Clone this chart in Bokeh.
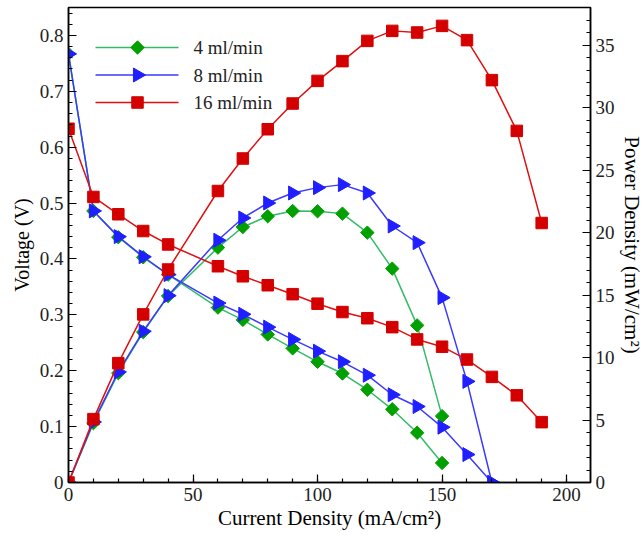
import numpy as np
from bokeh.plotting import figure
from bokeh.models import (Range1d, LinearAxis, SingleIntervalTicker, CustomJSTickFormatter)
from bokeh.core.properties import value
from bokeh.embed import file_html
from bokeh.resources import INLINE

# ---- data ----
x_4 = [0, 10, 20, 30, 40, 60, 70, 80, 90, 100, 110, 120, 130, 140, 150]
v_4 = [0.767, 0.486, 0.439, 0.403, 0.372, 0.313, 0.291, 0.265, 0.240, 0.216, 0.195, 0.166, 0.131, 0.089, 0.035]
p_4 = [0.0, 4.75, 8.75, 12.03, 14.92, 18.79, 20.44, 21.30, 21.72, 21.70, 21.51, 19.99, 17.11, 12.57, 5.31]

x_8 = [0, 10, 20, 30, 40, 60, 70, 80, 90, 100, 110, 120, 130, 140, 150, 160, 170]
v_8 = [0.767, 0.486, 0.440, 0.404, 0.372, 0.321, 0.301, 0.278, 0.256, 0.235, 0.216, 0.192, 0.157, 0.136, 0.099, 0.050, 0.0]
p_8 = [0.0, 4.85, 8.85, 12.1, 14.95, 19.38, 21.16, 22.36, 23.16, 23.59, 23.83, 23.16, 20.52, 19.19, 14.79, 8.09, 0.0]

x_16 = [0, 10, 20, 30, 40, 60, 70, 80, 90, 100, 110, 120, 130, 140, 150, 160, 170, 180, 190]
v_16 = [0.633, 0.511, 0.480, 0.450, 0.426, 0.387, 0.369, 0.353, 0.337, 0.320, 0.305, 0.294, 0.278, 0.256, 0.243, 0.220, 0.189, 0.156, 0.108]
p_16 = [0.0, 5.07, 9.55, 13.45, 17.04, 23.32, 25.92, 28.26, 30.32, 32.13, 33.71, 35.33, 36.13, 36.0, 36.53, 35.39, 32.19, 28.13, 20.76]

labels = ["4 ml/min", "8 ml/min", "16 ml/min"]

FONT = "Times New Roman"

FW, FH = 522, 475
V_TOP = 0.85
P_TOP = 38.0

p = figure(frame_width=FW, frame_height=FH, output_backend="svg", toolbar_location=None,
           x_range=Range1d(0, 209.6), y_range=Range1d(0, V_TOP),
           min_border_left=68, min_border_right=40, min_border_top=7, min_border_bottom=51)
p.extra_y_ranges = {"power": Range1d(0, P_TOP), "ly": Range1d(0, FH)}
p.extra_x_ranges = {"lx": Range1d(0, FW)}

p.grid.visible = False
p.outline_line_color = "black"
p.outline_line_width = 1.5
p.background_fill_color = "white"
p.border_fill_color = "white"

def style_axis(ax, size="19px"):
    ax.axis_line_color = "black"
    ax.axis_line_width = 1.5
    ax.major_tick_in = 8
    ax.major_tick_out = 0
    ax.minor_tick_in = 4
    ax.minor_tick_out = 0
    ax.major_tick_line_color = "black"
    ax.minor_tick_line_color = "black"
    ax.major_tick_line_width = 1.2
    ax.minor_tick_line_width = 1.2
    ax.major_label_text_font = FONT
    ax.major_label_text_font_size = size
    ax.major_label_text_color = "#222222"
    ax.axis_label_text_font = FONT
    ax.axis_label_text_font_style = "normal"
    ax.axis_label_text_color = "black"
    ax.major_label_standoff = 5

xa = p.xaxis[0]
xa.ticker = SingleIntervalTicker(interval=50, num_minor_ticks=5)
xa.axis_label = "Current Density (mA/cm²)"
style_axis(xa)
xa.axis_label_text_font_size = "21px"
xa.axis_label_standoff = 2

ya = p.yaxis[0]
ya.ticker = SingleIntervalTicker(interval=0.1, num_minor_ticks=5)
ya.formatter = CustomJSTickFormatter(code="return tick < 1e-9 ? '0' : tick.toFixed(1);")
ya.axis_label = "Voltage (V)"
style_axis(ya)
ya.axis_label_text_font_size = "20px"
ya.axis_label_standoff = 4

ra = LinearAxis(y_range_name="power", axis_label="Power Density (mW/cm²)",
                ticker=SingleIntervalTicker(interval=5, num_minor_ticks=5))
style_axis(ra)
ra.axis_label_text_font_size = "21px"
ra.axis_label_standoff = 2
p.add_layout(ra, "right")

series = [
    (x_4, v_4, p_4, "#33bb66", "#00a000", "diamond"),
    (x_8, v_8, p_8, "#3a3aff", "#1f1fff", "triangle"),
    (x_16, v_16, p_16, "#e01010", "#d40000", "square"),
]

def marker_kw(mk):
    if mk == "diamond":
        return dict(marker="square", size=9.5, angle=np.pi / 4)
    if mk == "triangle":
        return dict(marker="triangle", size=14, angle=-np.pi / 2)
    return dict(marker="square", size=11.5)

for xs, vs, ps, lc, mc, mk in series:
    kw = marker_kw(mk)
    p.line(xs, vs, line_color=lc, line_width=1.5)
    p.scatter(xs, vs, fill_color=mc, line_color=mc, **kw)
    p.line(xs, ps, line_color=lc, line_width=1.5, y_range_name="power")
    p.scatter(xs, ps, fill_color=mc, line_color=mc, y_range_name="power", **kw)

# ---- legend (frame pixel units) ----
LEG_X0, LEG_X1, LEG_MX, LEG_TX = 27, 110, 69, 125
LEG_Y0, LEG_DY = 435, 27.5
for i, ((xs, vs, ps, lc, mc, mk), lab) in enumerate(zip(series, labels)):
    yy = LEG_Y0 - i * LEG_DY
    p.line([LEG_X0, LEG_X1], [yy, yy], line_color=lc, line_width=1.5,
           x_range_name="lx", y_range_name="ly")
    p.scatter([LEG_MX], [yy], fill_color=mc, line_color=mc,
              x_range_name="lx", y_range_name="ly", **marker_kw(mk))
    p.text([LEG_TX], [yy], text=[lab], text_font=value(FONT), text_font_size="19px",
           text_baseline="middle", text_align="left", text_color="#222222",
           x_range_name="lx", y_range_name="ly")

open("out.html", "w").write(file_html(p, INLINE))
